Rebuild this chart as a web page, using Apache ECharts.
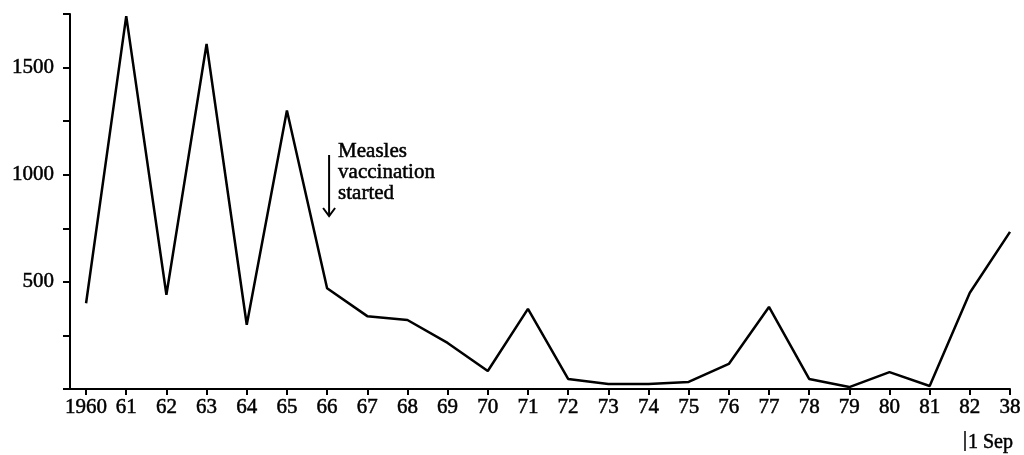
<!DOCTYPE html>
<html><head><meta charset="utf-8">
<script src="https://cdn.jsdelivr.net/npm/echarts@6/dist/echarts.min.js"></script>
<style>html,body{margin:0;padding:0;background:#fff}#c{width:1024px;height:455px}</style>
</head><body><div id="c"></div>
<script>
const categories = ['1960','61','62','63','64','65','66','67','68','69','70','71','72','73','74','75','76','77','78','79','80','81','82','38'];
const cases = [400,1740,440,1610,300,1300,470,340,322,215,84,374,47,23,23,33,117,383,47,9,79,14,449,733];
const yLabels = [500,1000,1500];
const annotationText = 'Measles\nvaccination\nstarted';
const noteText = '1 Sep';

const font = '"Liberation Serif", "DejaVu Serif", serif';
const chart = echarts.init(document.getElementById('c'), null, {renderer:'canvas'});
const idx = categories.map((_, i) => i);
const thick = {textBorderColor:'#000', textBorderWidth:0.5};
chart.setOption({
  animation:false,
  backgroundColor:'#fff',
  grid:{left:70, right:14, top:14, bottom:66, containLabel:false},
  xAxis:{
    type:'value', min:-0.4, max:23,
    axisLine:{show:true, onZero:false, lineStyle:{color:'#000', width:2}},
    axisTick:{show:true, customValues:idx, length:6, lineStyle:{color:'#000', width:2}},
    axisLabel:Object.assign({show:true, customValues:idx, formatter:v => categories[Math.round(v)], color:'#000', fontFamily:font, fontSize:21, margin:8}, thick),
    splitLine:{show:false}
  },
  yAxis:{
    type:'value', min:0, max:1750, interval:250,
    axisLine:{show:true, onZero:false, lineStyle:{color:'#000', width:2}},
    axisTick:{show:true, inside:false, length:7, lineStyle:{color:'#000', width:2}},
    axisLabel:Object.assign({formatter:v => yLabels.includes(v) ? String(v) : '', color:'#000', fontFamily:font, fontSize:21, margin:16}, thick),
    splitLine:{show:false}
  },
  series:[{
    type:'line', data:cases.map((v,i)=>[i,v]), showSymbol:false, symbol:'none',
    lineStyle:{color:'#000', width:2.5}, silent:true
  }]
});
const p66 = chart.convertToPixel({gridIndex:0}, [6, 1000]);
const p38 = chart.convertToPixel({gridIndex:0}, [23, 0]);
chart.setOption({graphic:[
  {type:'line', shape:{x1:p66[0]+2, y1:155, x2:p66[0]+2, y2:216}, style:{stroke:'#000', lineWidth:2}},
  {type:'polyline', shape:{points:[[p66[0]-4,208],[p66[0]+2,216],[p66[0]+8,208]]}, style:{stroke:'#000', lineWidth:2, fill:null}},
  {type:'text', x:p66[0]+11, y:141, style:Object.assign({text:annotationText, font:'21px '+font, fill:'#000', lineHeight:21, stroke:'#000', lineWidth:0.5})},
  {type:'line', shape:{x1:p38[0]-45, y1:431, x2:p38[0]-45, y2:451}, style:{stroke:'#000', lineWidth:1.5}},
  {type:'text', x:p38[0]-42, y:433, style:{text:noteText, font:'20px '+font, fill:'#000', stroke:'#000', lineWidth:0.5}}
]});
</script></body></html>
